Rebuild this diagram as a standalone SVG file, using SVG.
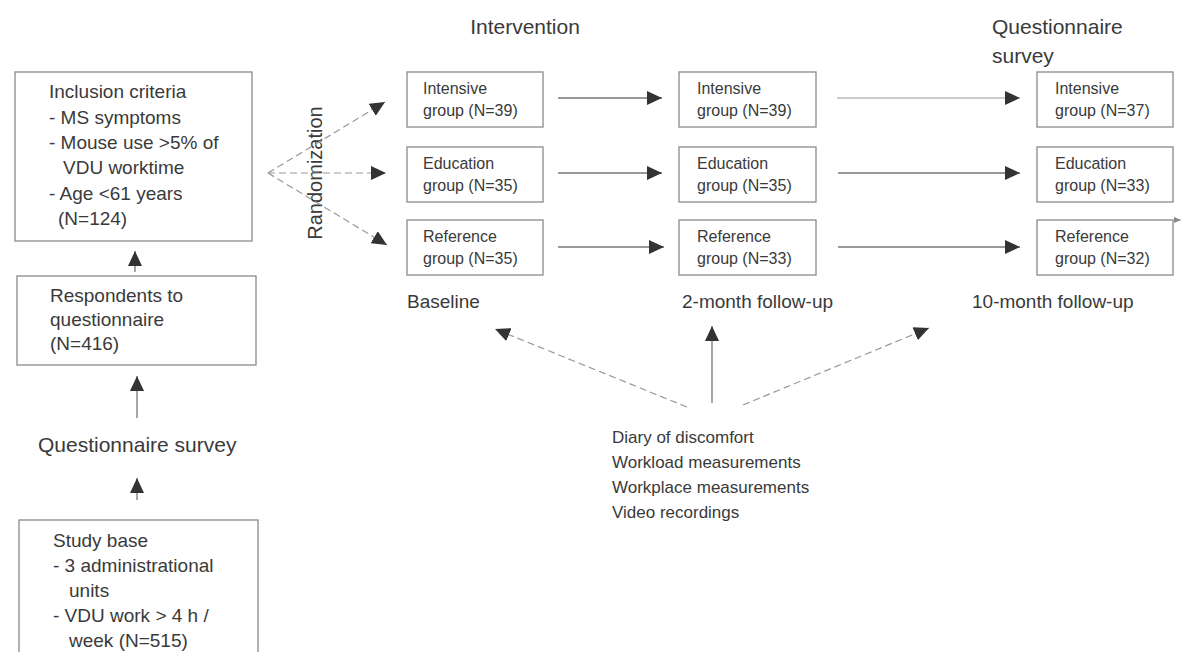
<svg xmlns="http://www.w3.org/2000/svg" width="1204" height="652" viewBox="0 0 1204 652">
<defs>
<marker id="ah" markerUnits="userSpaceOnUse" markerWidth="16" markerHeight="14" refX="15" refY="7" orient="auto">
<path d="M0,0 L15,7 L0,14 z" fill="#333"/>
</marker>
<marker id="ahs" markerUnits="userSpaceOnUse" markerWidth="8" markerHeight="6" refX="7" refY="3" orient="auto">
<path d="M0,0 L7,3 L0,6 z" fill="#888"/>
</marker>
<style>
text{font-family:"Liberation Sans",Arial,sans-serif;fill:#3a3a3a}
.box{fill:none;stroke:#8a8a8a;stroke-width:1.3}
.t19{font-size:19px}
.t16{font-size:16px}
.t17{font-size:17px}
.t21{font-size:21px}
.c{fill:none;stroke:#777;stroke-width:1.3;marker-end:url(#ah)}
.d{fill:none;stroke:#999;stroke-width:1.2;stroke-dasharray:7 4;marker-end:url(#ah)}
</style>
</defs>
<rect width="1204" height="652" fill="#fff"/>

<g id="inclusion">
<rect class="box" x="15" y="72" width="237" height="169"/>
<text class="t19" x="49" y="98">Inclusion criteria</text>
<text class="t19" x="49" y="123.5">- MS symptoms</text>
<text class="t19" x="49" y="149">- Mouse use &gt;5% of</text>
<text class="t19" x="63" y="174">VDU worktime</text>
<text class="t19" x="49" y="199.5">- Age &lt;61 years</text>
<text class="t19" x="58" y="225">(N=124)</text>
</g>

<g id="respondents">
<rect class="box" x="17" y="276" width="239" height="89"/>
<text class="t19" x="50" y="302">Respondents to</text>
<text class="t19" x="50" y="326">questionnaire</text>
<text class="t19" x="50" y="350">(N=416)</text>
</g>

<g id="qsurvey-left">
<text class="t21" x="38" y="452">Questionnaire survey</text>
</g>

<g id="studybase">
<rect class="box" x="19" y="520" width="239" height="140"/>
<text class="t19" x="53" y="547">Study base</text>
<text class="t19" x="53" y="572">- 3 administrational</text>
<text class="t19" x="69" y="597">units</text>
<text class="t19" x="53" y="622">- VDU work  &gt; 4 h /</text>
<text class="t19" x="69" y="647">week (N=515)</text>
</g>

<g id="randomization">
<text class="t19" transform="translate(322,173) rotate(-90)" text-anchor="middle" style="font-size:20px">Randomization</text>
</g>

<g id="intervention-title">
<text class="t21" x="525" y="34" text-anchor="middle">Intervention</text>
</g>
<g id="qsurvey-right">
<text class="t21" x="992" y="34">Questionnaire</text>
<text class="t21" x="992" y="63">survey</text>
</g>

<g id="base-intensive">
<rect class="box" x="407" y="72" width="136" height="55"/>
<text class="t16" x="423" y="94">Intensive</text>
<text class="t16" x="423" y="116">group (N=39)</text>
</g>
<g id="base-education">
<rect class="box" x="407" y="147" width="136" height="55"/>
<text class="t16" x="423" y="169">Education</text>
<text class="t16" x="423" y="191">group (N=35)</text>
</g>
<g id="base-reference">
<rect class="box" x="407" y="220" width="136" height="55"/>
<text class="t16" x="423" y="242">Reference</text>
<text class="t16" x="423" y="264">group (N=35)</text>
</g>

<g id="m2-intensive">
<rect class="box" x="679" y="72" width="137" height="55"/>
<text class="t16" x="697" y="94">Intensive</text>
<text class="t16" x="697" y="116">group (N=39)</text>
</g>
<g id="m2-education">
<rect class="box" x="679" y="147" width="137" height="55"/>
<text class="t16" x="697" y="169">Education</text>
<text class="t16" x="697" y="191">group (N=35)</text>
</g>
<g id="m2-reference">
<rect class="box" x="679" y="220" width="137" height="55"/>
<text class="t16" x="697" y="242">Reference</text>
<text class="t16" x="697" y="264">group (N=33)</text>
</g>

<g id="m10-intensive">
<rect class="box" x="1037" y="72" width="136" height="55"/>
<text class="t16" x="1055" y="94">Intensive</text>
<text class="t16" x="1055" y="116">group (N=37)</text>
</g>
<g id="m10-education">
<rect class="box" x="1037" y="147" width="136" height="55"/>
<text class="t16" x="1055" y="169">Education</text>
<text class="t16" x="1055" y="191">group (N=33)</text>
</g>
<g id="m10-reference">
<rect class="box" x="1037" y="220" width="136" height="55"/>
<text class="t16" x="1055" y="242">Reference</text>
<text class="t16" x="1055" y="264">group (N=32)</text>
</g>

<g id="labels">
<text class="t19" x="407" y="308">Baseline</text>
<text class="t19" x="682" y="308">2-month follow-up</text>
<text class="t19" x="972" y="308">10-month follow-up</text>
</g>

<g id="measurements">
<text class="t17" x="612" y="443">Diary of discomfort</text>
<text class="t17" x="612" y="468">Workload measurements</text>
<text class="t17" x="612" y="493">Workplace measurements</text>
<text class="t17" x="612" y="518">Video recordings</text>
</g>

<g id="connectors">
<line class="c" x1="137" y1="500" x2="137" y2="478"/>
<line class="c" x1="137" y1="418" x2="137" y2="376"/>
<line class="c" x1="135" y1="272" x2="135" y2="251"/>
<line class="d" x1="268" y1="173" x2="385" y2="102"/>
<line class="d" x1="268" y1="173" x2="386" y2="173"/>
<line class="d" x1="268" y1="173" x2="387" y2="245"/>
<line class="c" x1="558" y1="98" x2="662" y2="98"/>
<line class="c" x1="558" y1="173" x2="662" y2="173"/>
<line class="c" x1="558" y1="247" x2="664" y2="247"/>
<line class="c" x1="837" y1="98" x2="1020" y2="98" style="stroke:#bbb"/>
<line class="c" x1="838" y1="173" x2="1020" y2="173"/>
<line class="c" x1="838" y1="247" x2="1020" y2="247"/>
<line class="d" x1="687" y1="407" x2="495" y2="329"/>
<line class="c" x1="712" y1="403" x2="712" y2="326"/>
<line class="d" x1="743" y1="405" x2="929" y2="328"/>
<line x1="1070" y1="220" x2="1181" y2="220" style="stroke:#aaa;stroke-width:1;marker-end:url(#ahs)"/>
</g>
</svg>
